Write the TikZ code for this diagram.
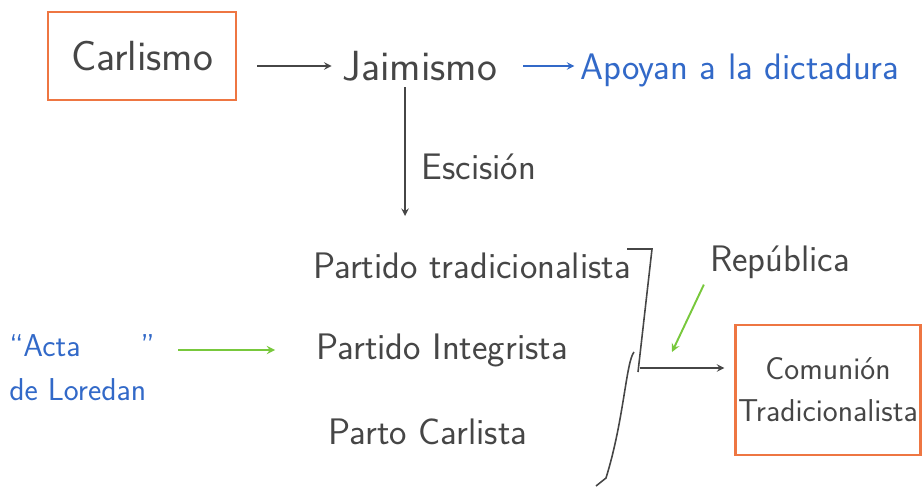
\documentclass[tikz,border=0pt]{standalone}
\usepackage{fontspec}
\definecolor{inkgray}{RGB}{70,70,70}
\definecolor{penblue}{RGB}{50,105,200}
\definecolor{pengreen}{RGB}{120,200,60}
\definecolor{penorange}{RGB}{238,118,66}
\tikzset{
  hand/.style={font=\sffamily\fontsize{21}{27}\selectfont, text=inkgray},
  bighand/.style={font=\sffamily\fontsize{24}{28}\selectfont, text=inkgray},
  handblue/.style={font=\sffamily\fontsize{21}{27}\selectfont, text=penblue},
  framebox/.style={draw=penorange, line width=1.3pt},
  inkline/.style={draw=inkgray, line width=0.9pt},
}
\begin{document}
\begin{tikzpicture}[x=0.02cm,y=-0.02cm,>=stealth]
\useasboundingbox (0,0) rectangle (922,488);

\node[bighand, framebox, minimum width=3.76cm, minimum height=1.76cm] (carl) at (142,56) {Carlismo};
\node[bighand] (jaim) at (420,66) {Jaimismo};
\node[handblue] (apoy) at (740,70) {Apoyan a la dictadura};

\draw[inkline,->,shorten <=0.4cm,shorten >=0.1cm] (carl.east |- jaim) -- (jaim.west);
\draw[penblue,line width=0.9pt,->,shorten <=0.4cm] (jaim.east) -- (apoy.west |- jaim);

% escision
\coordinate (splitend) at (405,216);
\draw[inkline,->] (jaim.south -| splitend) -- (splitend)
  node[hand, pos=0.62, right=0.2cm] (esc) {Escisión};

\node[hand] (ptrad) at (472,266) {Partido tradicionalista};
\node[hand] (pinteg) at (442,350) {Partido Integrista};
\node[hand] (pcarl) at (428,432) {Parto Carlista};

% llave
\draw[inkline] (627,249) -- (652,249) -- (638,372);
\draw[inkline] (634,352) .. controls (626,362) and (624,420) .. (606,478) -- (596,486);
\coordinate (brk) at (640,368);

\node[framebox, align=center, text=inkgray, font=\sffamily\fontsize{18}{24}\selectfont, inner sep=1pt,
  minimum width=3.7cm, minimum height=2.6cm] (comun) at (828,390) {Comunión\\Tradicionalista};
\draw[inkline,->,shorten >=0.2cm] (brk) -- (brk -| comun.west);

\node[hand] (rep) at (780,262) {República};
\coordinate (repend) at (672,352);
\draw[pengreen,line width=1.1pt,->] (rep.south west) -- (repend);

\node[handblue, align=left, font=\sffamily\fontsize{18}{25}\selectfont] (acta) at (82,368) {“Acta\hspace{1.2cm}”\\de Loredan};
\draw[pengreen,line width=1.1pt,->,shorten <=0.35cm,shorten >=0.7cm] (acta.east |- pinteg.west) -- (pinteg.west);
\end{tikzpicture}
\end{document}
